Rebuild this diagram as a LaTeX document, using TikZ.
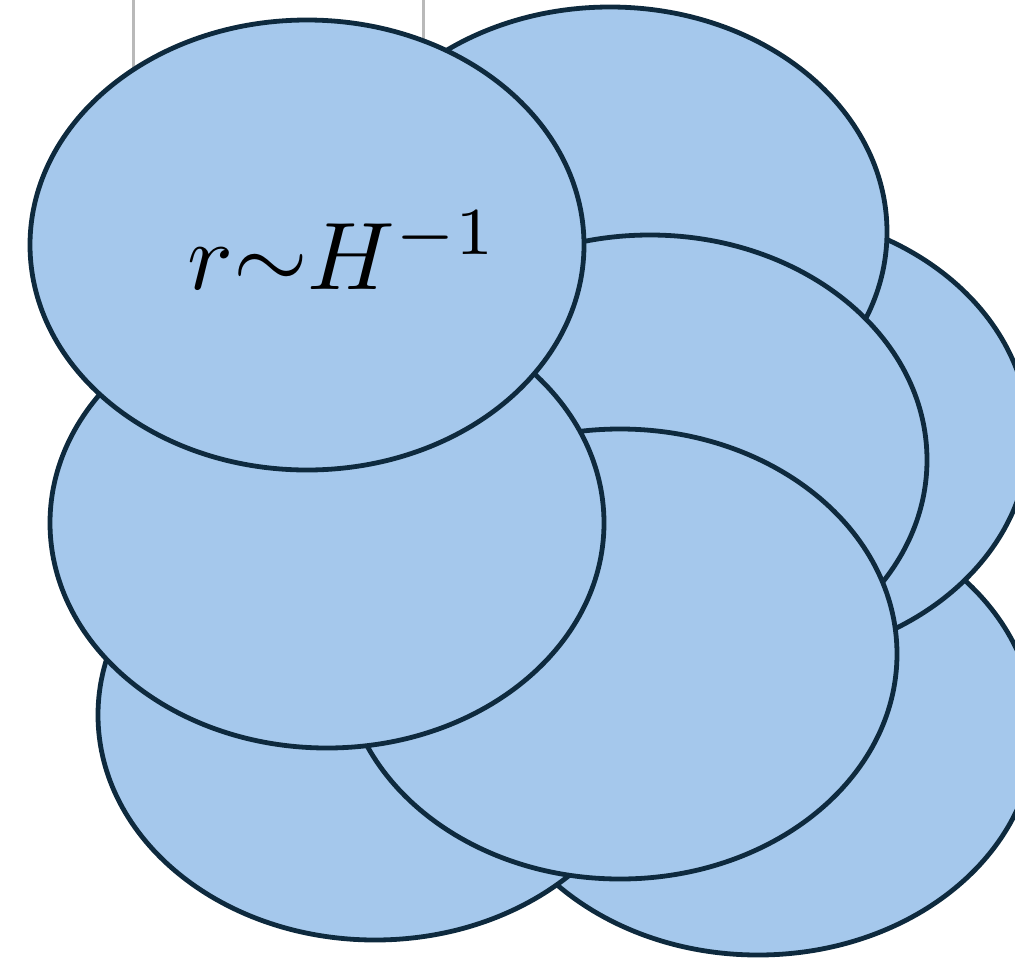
\documentclass[tikz,border=0pt]{standalone}
\usetikzlibrary{shapes.geometric}
\definecolor{blobfill}{RGB}{165,200,236}
\definecolor{blobline}{RGB}{14,42,62}
\definecolor{guide}{RGB}{185,185,185}
\begin{document}
\begin{tikzpicture}[x=1pt,y=-1pt,
  blob/.style={ellipse, draw=blobline, fill=blobfill, line width=4.8pt,
    inner sep=0pt, outer sep=0pt, minimum width=554pt, minimum height=450pt},
  guideline/.style={draw=guide, line width=3pt}]
\useasboundingbox (0,0) rectangle (1015,962);
% guide lines behind the blobs
\coordinate (g1a) at (133,0);
\coordinate (g1b) at (133,150);
\coordinate (g2a) at (423,0);
\coordinate (g2b) at (423,150);
\draw[guideline] (g1a) -- (g1b);
\draw[guideline] (g2a) -- (g2b);
% ellipses, back to front
\node[blob] (e8) at (758,730) {};
\node[blob] (e7) at (375,715) {};
\node[blob] (e3) at (752,436) {};
\node[blob] (e2) at (610,232) {};
\node[blob] (e4) at (650,460) {};
\node[blob] (e6) at (620,654) {};
\node[blob] (e5) at (327,523) {};
\node[blob] (e1) at (307,245) {};
\node[text=black, inner sep=0pt, font=\fontsize{10}{12}\selectfont, scale=9.6] (lbl) at (343,250) {$r{\sim}H^{-1}$};
\end{tikzpicture}
\end{document}
